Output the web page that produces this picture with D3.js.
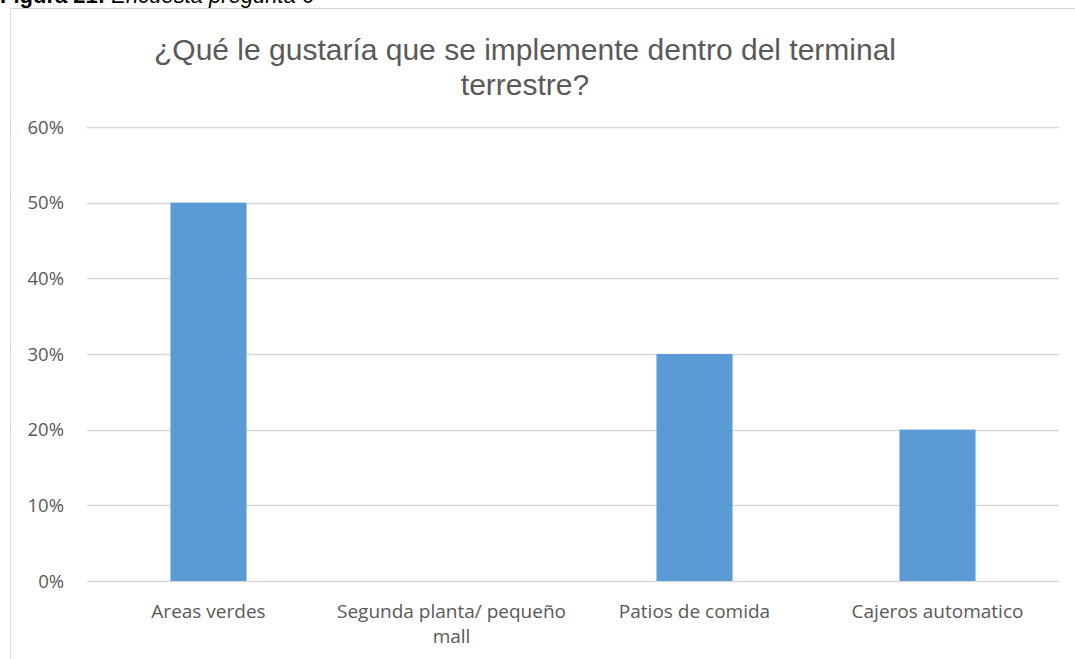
<!DOCTYPE html>
<html>
<head>
<meta charset="utf-8">
<script src="https://cdn.jsdelivr.net/npm/d3@7"></script>
<style>
body{margin:0;background:#fff;}
svg{display:block;}
</style>
</head>
<body>
<script>
var categories=["Areas verdes","Segunda planta/ pequeño mall","Patios de comida","Cajeros automatico"];
var labelLines=[["Areas verdes"],["Segunda planta/ pequeño","mall"],["Patios de comida"],["Cajeros automatico"]];
var values=[0.5,0,0.3,0.2];
var yTicks=[0,0.1,0.2,0.3,0.4,0.5,0.6];
var titleLines=["¿Qué le gustaría que se implemente dentro del terminal","terrestre?"];

var width=1075;
var height=659;
var padding={top:127,right:16,bottom:78,left:87};

var svg=d3.select("body").append("svg").attr("width",width).attr("height",height);

// caption cut off at top
var cap=svg.append("text").attr("x",0).attr("y",3)
    .attr("font-family","Liberation Sans, Arial, sans-serif").attr("font-size","22px").attr("fill","#000");
cap.append("tspan").attr("font-weight","bold").text("Figura 21: ");
cap.append("tspan").attr("font-style","italic").text("Encuesta pregunta 6");

// chart frame
svg.append("line").attr("x1",10).attr("x2",width).attr("y1",8.5).attr("y2",8.5).attr("stroke","#d9d9d9");
svg.append("line").attr("x1",10.5).attr("x2",10.5).attr("y1",8).attr("y2",height).attr("stroke","#d9d9d9");

var x=d3.scaleBand().domain(categories).range([padding.left,width-padding.right]).paddingInner(0.687).paddingOuter(0.3435);
var y=d3.scaleLinear().domain([0,0.6]).range([height-padding.bottom,padding.top]);

// gridlines
svg.append("g").selectAll("line").data(yTicks).enter().append("line")
    .attr("x1",padding.left).attr("x2",width-padding.right)
    .attr("y1",function(d){return Math.round(y(d))+0.5;})
    .attr("y2",function(d){return Math.round(y(d))+0.5;})
    .attr("stroke","#d9d9d9").attr("stroke-width",1.3);

// y labels
svg.append("g").selectAll("text").data(yTicks).enter().append("text")
    .attr("x",64).attr("y",function(d){return y(d);})
    .attr("dy","0.36em").attr("text-anchor","end")
    .attr("font-family","Open Sans, sans-serif").attr("font-size","18.5px").attr("fill","#595959")
    .text(function(d){return d3.format(".0%")(d);});

// bars
svg.append("g").selectAll("rect").data(values).enter().append("rect")
    .attr("x",function(d,i){return x(categories[i]);})
    .attr("y",function(d){return y(d);})
    .attr("width",x.bandwidth())
    .attr("height",function(d){return y(0)-y(d);})
    .attr("fill","#5b9bd5");

// x labels
var xl=svg.append("g").selectAll("text").data(labelLines).enter().append("text")
    .attr("text-anchor","middle")
    .attr("font-family","Open Sans, sans-serif").attr("font-size","19px").attr("fill","#595959")
    .attr("transform",function(d,i){return "translate("+(x(categories[i])+x.bandwidth()/2)+",618)";});
xl.selectAll("tspan").data(function(d){return d;}).enter().append("tspan")
    .attr("x",0).attr("y",function(d,j){return j*25;})
    .text(function(d){return d;});

// title
svg.append("g").selectAll("text").data(titleLines).enter().append("text")
    .attr("x",525).attr("y",function(d,i){return 60+i*35;})
    .attr("text-anchor","middle")
    .attr("font-family","Liberation Sans, Arial, sans-serif").attr("font-size","30px").attr("fill","#595959")
    .text(function(d){return d;});
</script>
</body>
</html>
